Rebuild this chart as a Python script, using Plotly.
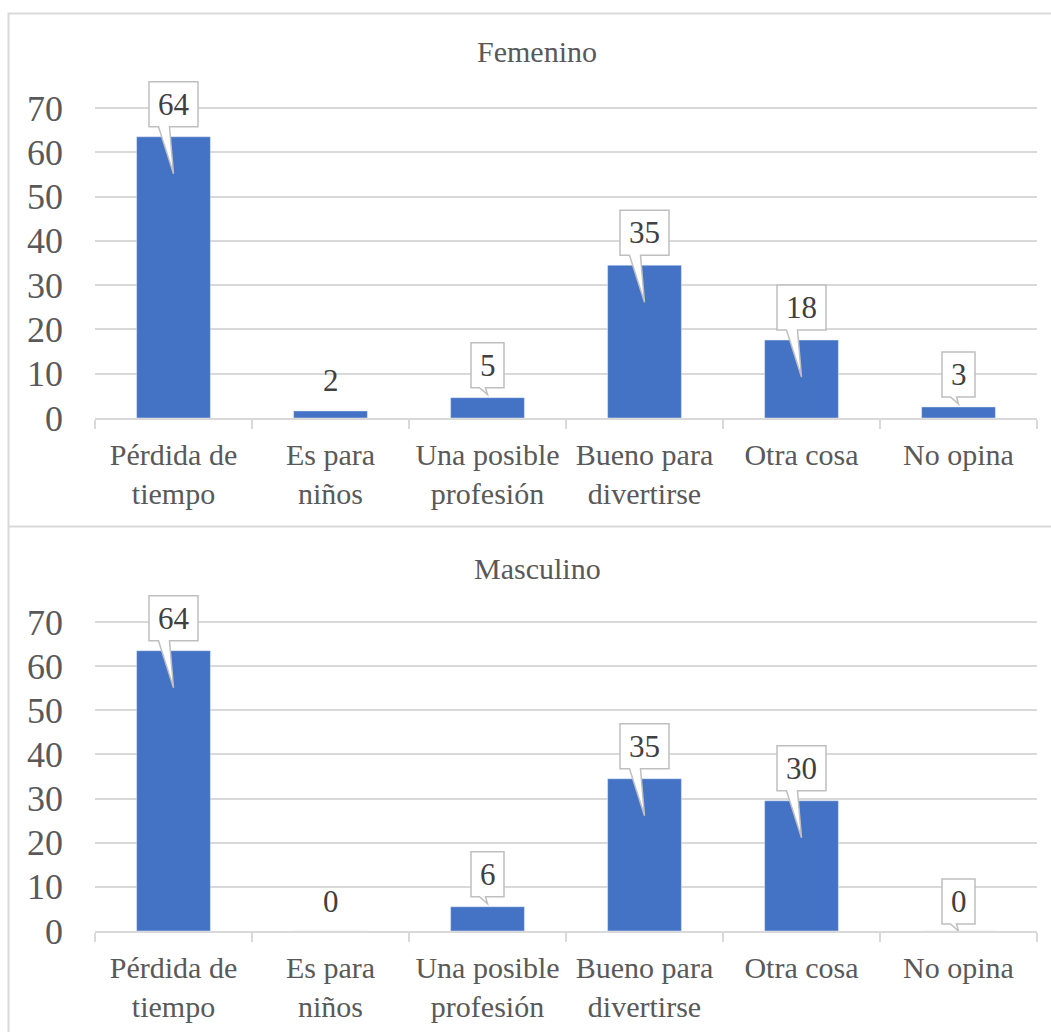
import math
import plotly.graph_objects as go

categories = ["Pérdida de tiempo", "Es para niños", "Una posible profesión",
              "Bueno para divertirse", "Otra cosa", "No opina"]
tick_labels = ["Pérdida de<br>tiempo", "Es para<br>niños", "Una posible<br>profesión",
               "Bueno para<br>divertirse", "Otra cosa", "No opina"]
femenino = [63.5, 1.6, 4.6, 34.5, 17.6, 2.5]
masculino = [63.5, 0, 5.5, 34.5, 29.5, 0]
panel_titles = ["Femenino", "Masculino"]
y_ticks = [0, 10, 20, 30, 40, 50, 60, 70]

# which data labels are drawn as callouts (others are plain text)
boxed_fem = [True, False, True, True, True, True]
boxed_masc = [True, False, True, True, True, True]

W, H = 1051, 1032
BAR = "#4472C4"
GRID = "#D9D9D9"
TXT = "#595959"
LBL = "#404040"
FONT = "Liberation Serif, Times New Roman, serif"
YMAX = 70
YTOP = 79  # axis range extends above the last gridline so callouts are not clipped


def px(x):
    return x / W


def py(y):
    return 1 - y / H


fig = go.Figure()

panels = [
    (femenino, boxed_fem, "x", "y", (108, 418), 52),
    (masculino, boxed_masc, "x2", "y2", (622, 931), 568),
]

shapes = []
annotations = []
ydomains = []

for (vals, boxed, xr, yr, (ytop, ybot), title_y), title in zip(panels, panel_titles):
    scale = (ybot - ytop) / YMAX
    ydomains.append([py(ybot), py(ybot - scale * YTOP)])
    fig.add_trace(go.Bar(x=categories, y=vals, marker_color=BAR, width=0.47,
                         xaxis=xr, yaxis=yr, showlegend=False, hoverinfo="skip"))
    for cat, v, b in zip(categories, vals, boxed):
        label = str(int(math.floor(v + 0.5)))
        if b:
            w = 49 if len(label) > 1 else 33
            hbox = 45
            bot = 10
            tall = v * scale > 45
            if tall:
                tip, p1, p2 = -37, -15, -4
            else:
                tip, p1, p2 = 3, -8, -2
            if v == 0:
                bot, tip = 7, 0
            path = (f"M {-w/2},{bot} L {-w/2},{bot+hbox} L {w/2},{bot+hbox} "
                    f"L {w/2},{bot} L {p2},{bot} L 0,{tip} L {p1},{bot} Z")
            shapes.append(dict(type="path", path=path, xref=xr, yref=yr,
                               xsizemode="pixel", ysizemode="pixel",
                               xanchor=cat, yanchor=v,
                               fillcolor="white", line=dict(color="#BFBFBF", width=1.5),
                               layer="above"))
            annotations.append(dict(x=cat, y=v, xref=xr, yref=yr, text=label,
                                    showarrow=False, yshift=bot + hbox / 2,
                                    font=dict(family=FONT, size=31, color=LBL)))
        else:
            annotations.append(dict(x=cat, y=v, xref=xr, yref=yr, text=label,
                                    showarrow=False, yshift=30,
                                    font=dict(family=FONT, size=31, color=LBL)))
    annotations.append(dict(x=px(537), y=py(title_y), xref="paper", yref="paper",
                            text=title, showarrow=False, xanchor="center", yanchor="middle",
                            font=dict(family=FONT, size=30, color=TXT)))

# chart borders
shapes.append(dict(type="rect", xref="paper", yref="paper",
                   x0=px(8.5), x1=px(1070), y0=py(1045), y1=py(13.5),
                   line=dict(color=GRID, width=2), fillcolor="rgba(0,0,0,0)", layer="below"))
shapes.append(dict(type="line", xref="paper", yref="paper",
                   x0=px(8.5), x1=px(1070), y0=py(526.5), y1=py(526.5),
                   line=dict(color=GRID, width=2), layer="below"))

xdom = [px(95), px(1037)]


def xaxis_cfg(anchor):
    return dict(domain=xdom, anchor=anchor, type="category", range=[-0.5, 5.5],
                tickmode="array", tickvals=categories, ticktext=tick_labels,
                tickson="boundaries", ticks="outside", ticklen=9, tickwidth=1.5,
                tickcolor=GRID, showline=True, linecolor=GRID, linewidth=1.5,
                showgrid=False, ticklabelstandoff=9, automargin=False,
                tickfont=dict(family=FONT, size=30, color=TXT))


def yaxis_cfg(anchor, dom):
    return dict(domain=dom, anchor=anchor, range=[0, YTOP], tickvals=y_ticks,
                showgrid=True, gridcolor=GRID, gridwidth=1.5, zeroline=False,
                showline=False, ticks="", ticklabelstandoff=31, automargin=False,
                tickfont=dict(family=FONT, size=36, color=TXT))


fig.update_layout(
    width=W, height=H, margin=dict(l=0, r=0, t=0, b=0, autoexpand=False),
    paper_bgcolor="white", plot_bgcolor="white",
    xaxis=xaxis_cfg("y"), yaxis=yaxis_cfg("x", ydomains[0]),
    xaxis2=xaxis_cfg("y2"), yaxis2=yaxis_cfg("x2", ydomains[1]),
    shapes=shapes, annotations=annotations, bargap=0.53,
)

fig.write_html("out.html")
